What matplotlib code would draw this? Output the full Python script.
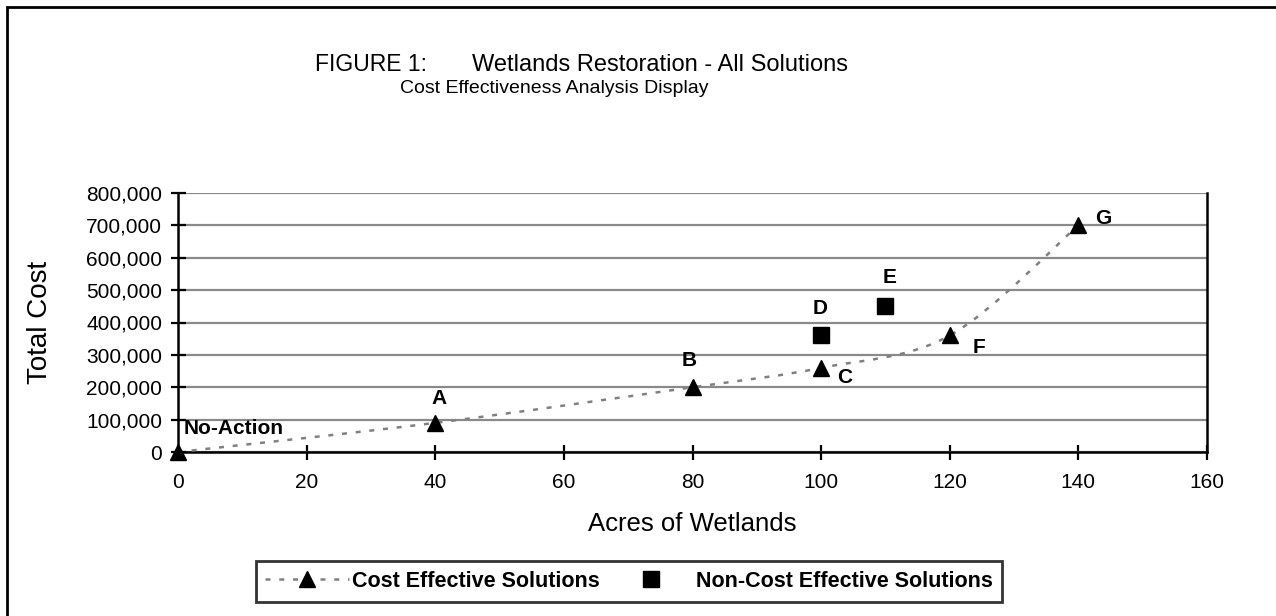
import matplotlib
matplotlib.use("Agg")
import matplotlib.pyplot as plt
from matplotlib.path import Path
from matplotlib.patches import PathPatch, Rectangle
from matplotlib.lines import Line2D
from matplotlib.ticker import FuncFormatter

plt.rcParams['font.family'] = ['Liberation Sans', 'DejaVu Sans']

# data
ce_acres = [0, 40, 80, 100, 120, 140]
ce_cost = [0, 90000, 200000, 260000, 360000, 700000]
ce_names = ["No-Action", "A", "B", "C", "F", "G"]

nce_acres = [100, 110]
nce_cost = [360000, 450000]
nce_names = ["D", "E"]

# label offsets in pixels (layout only)
ce_offsets = [(6, 23, 'left'), (4, 24, 'center'), (-3, 27, 'center'), (24, -10, 'center'),
              (29, -12, 'center'), (25, 7, 'center')]
nce_offsets = [(-1, 27, 'center'), (4, 29, 'center')]

W, H = 1276, 616
fig = plt.figure(figsize=(W / 100, H / 100), dpi=100)
ax = fig.add_axes([178 / W, 1 - 452 / H, (1207 - 178) / W, (452 - 193) / H])

# smoothed line (excel style bezier through the points)
pts = list(zip(ce_acres, ce_cost))
verts = [pts[0]]
codes = [Path.MOVETO]
n = len(pts)
for i in range(n - 1):
    p0 = pts[max(i - 1, 0)]
    p1 = pts[i]
    p2 = pts[i + 1]
    p3 = pts[min(i + 2, n - 1)]
    c1 = (p1[0] + (p2[0] - p0[0]) / 6, p1[1] + (p2[1] - p0[1]) / 6)
    c2 = (p2[0] - (p3[0] - p1[0]) / 6, p2[1] - (p3[1] - p1[1]) / 6)
    verts += [c1, c2, p2]
    codes += [Path.CURVE4] * 3
curve = PathPatch(Path(verts, codes), facecolor='none', edgecolor='#808080', lw=1.8,
                  linestyle=(0, (2, 3.5)), zorder=3)
ax.add_patch(curve)

ax.plot(ce_acres, ce_cost, linestyle='none', marker='^', ms=11.5, color='black', zorder=4,
        clip_on=False)
ax.plot(nce_acres, nce_cost, linestyle='none', marker='s', ms=11, color='black', zorder=4)

lab_font = dict(fontsize=15, fontweight='bold')
for x, y, name, (dx, dy, ha) in zip(ce_acres, ce_cost, ce_names, ce_offsets):
    ax.annotate(name, (x, y), xytext=(dx * 0.72, dy * 0.72), textcoords='offset points',
                ha=ha, va='center', **lab_font)
for x, y, name, (dx, dy, ha) in zip(nce_acres, nce_cost, nce_names, nce_offsets):
    ax.annotate(name, (x, y), xytext=(dx * 0.72, dy * 0.72), textcoords='offset points',
                ha=ha, va='center', **lab_font)

ax.set_xlim(0, 160)
ax.set_ylim(0, 800000)
ax.set_xticks(range(0, 161, 20))
ax.set_yticks(range(0, 800001, 100000))
ax.yaxis.set_major_formatter(FuncFormatter(lambda v, p: f"{int(v):,}"))
ax.grid(axis='y', color='#8a8a8a', lw=1.6)
ax.set_axisbelow(True)
for s in ['left', 'bottom', 'right']:
    ax.spines[s].set_linewidth(1.8)
ax.spines['top'].set_visible(False)
ax.tick_params(axis='both', direction='inout', length=10.8, width=1.6, labelsize=15)
ax.tick_params(axis='x', pad=10)
ax.tick_params(axis='y', pad=6)

fig.text(40 / W, 1 - 322 / H, "Total Cost", rotation=90, ha='center', va='center', fontsize=20)
fig.text(692 / W, 1 - 531 / H, "Acres of Wetlands", ha='center', va='baseline', fontsize=18.5)

fig.text(315 / W, 1 - 70.7 / H, "FIGURE 1:", ha='left', va='baseline', fontsize=16.5)
fig.text(472 / W, 1 - 70.7 / H, "Wetlands Restoration - All Solutions", ha='left',
         va='baseline', fontsize=17)
fig.text(400 / W, 1 - 93.3 / H, "Cost Effectiveness Analysis Display", ha='left',
         va='baseline', fontsize=14)

# outer frame
fig.patches.append(Rectangle((7 / W, -0.05), 1.2, 1 - 7 / H + 0.05, transform=fig.transFigure,
                             fill=False, edgecolor='black', lw=2))

handles = [Line2D([], [], color='#808080', lw=1.8, linestyle=(0, (2, 3.5)), marker='^', ms=11,
                  mfc='black', mec='black'),
           Line2D([], [], linestyle='none', marker='s', ms=11, color='black')]
leg = fig.legend(handles, ["Cost Effective Solutions", "Non-Cost Effective Solutions"],
                 loc='center', bbox_to_anchor=(629 / W, 1 - 581.5 / H), ncol=2,
                 prop=dict(size=15.5, weight='bold'), frameon=True, fancybox=False,
                 handlelength=3.9, handletextpad=0.15, columnspacing=0.4, borderpad=0.45)
leg.get_frame().set_edgecolor('black')
leg.get_frame().set_linewidth(2)

fig.savefig("out.png", dpi=100)
